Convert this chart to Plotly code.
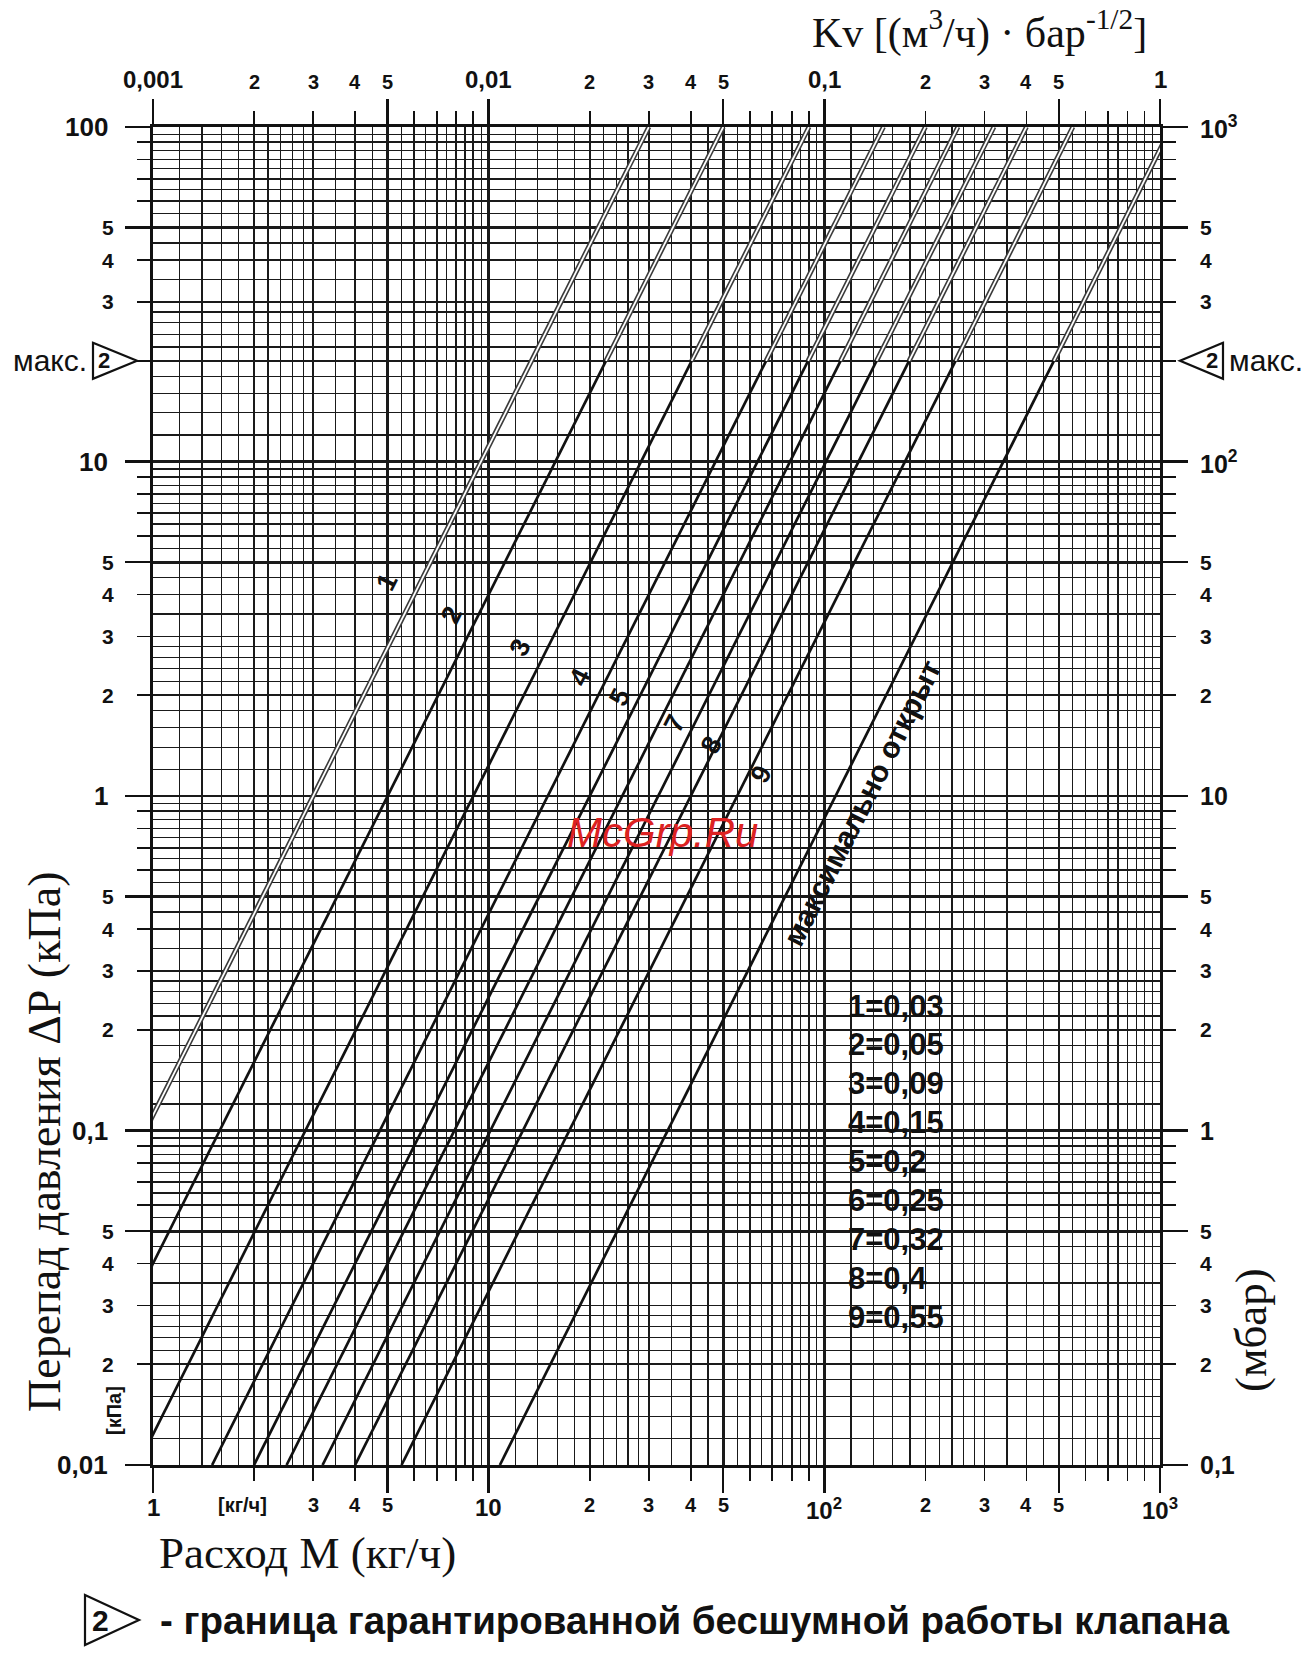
import numpy as np
import plotly.graph_objects as go

# ---------------- data ----------------
CURVE_NAMES = ["1", "2", "3", "4", "5", "6", "7", "8", "9"]
KV_VALUES = [0.03, 0.05, 0.09, 0.15, 0.2, 0.25, 0.32, 0.4, 0.55]
KV_FULL_OPEN = 1.08
DP_NOISE_LIMIT_KPA = 20.0

LEGEND_LINES = ["1=0,03", "2=0,05", "3=0,09", "4=0,15", "5=0,2",
                "6=0,25", "7=0,32", "8=0,4", "9=0,55"]

LINE_LABELS = ["1", "2", "3", "4", "5", "7", "8", "9"]
LINE_LABEL_M = [4.97, 7.76, 12.4, 18.7, 24.6, 35.9, 46.1, 65.0]
LINE_LABEL_DP = [4.37, 3.48, 2.77, 2.27, 1.98, 1.65, 1.42, 1.16]
FULL_OPEN_LABEL_M = 130.0
FULL_OPEN_LABEL_DP = 0.953

BOTTOM_TICK_M = [1, 2, 3, 4, 5, 10, 20, 30, 40, 50, 100, 200, 300, 400, 500, 1000]
BOTTOM_TICK_TEXT = ["1", "[кг/ч]", "3", "4", "5", "10", "2", "3", "4", "5",
                    "10<sup>2</sup>", "2", "3", "4", "5", "10<sup>3</sup>"]
TOP_TICK_KV = [0.001, 0.002, 0.003, 0.004, 0.005, 0.01, 0.02, 0.03, 0.04, 0.05,
               0.1, 0.2, 0.3, 0.4, 0.5, 1]
TOP_TICK_TEXT = ["0,001", "2", "3", "4", "5", "0,01", "2", "3", "4", "5",
                 "0,1", "2", "3", "4", "5", "1"]
LEFT_TICK_DP = [100, 50, 40, 30, 10, 5, 4, 3, 2, 1, 0.5, 0.4, 0.3, 0.2,
                0.1, 0.05, 0.04, 0.03, 0.02, 0.01]
LEFT_TICK_TEXT = ["100", "5", "4", "3", "10", "5", "4", "3", "2", "1", "5", "4",
                  "3", "2", "0,1", "5", "4", "3", "2", "0,01"]
RIGHT_TICK_MBAR = [1000, 500, 400, 300, 100, 50, 40, 30, 20, 10, 5, 4, 3, 2,
                   1, 0.5, 0.4, 0.3, 0.2, 0.1]
RIGHT_TICK_TEXT = ["10<sup>3</sup>", "5", "4", "3", "10<sup>2</sup>", "5", "4", "3",
                   "2", "10", "5", "4", "3", "2", "1", "5", "4", "3", "2", "0,1"]

GRID_MAIN = [1, 2, 3, 4, 5, 6, 7, 8, 9]
GRID_FINE = [1.2, 1.4, 1.6, 1.8, 2.2, 2.4, 2.6, 2.8, 3.5, 4.5, 5.5, 6.5, 7.5, 8.5, 9.5]
GRID_LONG = [1, 5]

# ---------------- layout geometry ----------------
W, H = 1316, 1663
L, R, T, B = 153, 1160, 127, 1465
SANS = "Liberation Sans, Arial, sans-serif"
SERIF = "Liberation Serif, Times New Roman, serif"
INK = "#111111"
GRID = "#1a1a1a"


def per_decade(bases, e0, e1, end=True):
    vals = [b * 10.0 ** e for e in range(e0, e1) for b in bases]
    if end:
        vals.append(10.0 ** e1)
    return vals


def is_decade(v):
    lv = np.log10(v)
    return abs(lv - round(lv)) < 1e-9


def px2paper(x, y):
    return (x - L) / (R - L), (B - y) / (B - T)


def dp_kpa(m, kv):
    return 100.0 * (m / 1000.0 / kv) ** 2


def m_at(dp, kv):
    return 1000.0 * kv * np.sqrt(dp / 100.0)


fig = go.Figure()


def solid(m0, m1, kv):
    fig.add_trace(go.Scatter(x=[m0, m1], y=[dp_kpa(m0, kv), dp_kpa(m1, kv)],
                             mode="lines", line=dict(color=INK, width=2.7),
                             hoverinfo="skip", showlegend=False))


def double(m0, m1, kv):
    xs = [m0, m1]
    ys = [dp_kpa(m0, kv), dp_kpa(m1, kv)]
    fig.add_trace(go.Scatter(x=xs, y=ys, mode="lines",
                             line=dict(color="#3a3a3a", width=5.0),
                             hoverinfo="skip", showlegend=False))
    fig.add_trace(go.Scatter(x=xs, y=ys, mode="lines",
                             line=dict(color="white", width=1.8),
                             hoverinfo="skip", showlegend=False))


all_kv = KV_VALUES + [KV_FULL_OPEN]
for i, kv in enumerate(all_kv):
    m_lo = m_at(0.01, kv)
    m_sw = m_at(DP_NOISE_LIMIT_KPA, kv)
    m_hi = m_at(100.0, kv)
    if i == 0:
        double(m_lo, m_hi, kv)
    else:
        solid(m_lo, m_sw, kv)
        double(m_sw, m_hi, kv)

# helper traces so that the overlay axes exist
for xa, ya, xv, yv in [("x2", "y3", 10, 1), ("x3", "y2", 0.01, 10), ("x4", "y4", 0.01, 10)]:
    fig.add_trace(go.Scatter(x=[xv], y=[yv], xaxis=xa, yaxis=ya, mode="markers",
                             marker=dict(opacity=0), hoverinfo="skip", showlegend=False))

m_main = per_decade(GRID_MAIN, 0, 3)
m_fine = per_decade(GRID_FINE, 0, 3, end=False)
m_long = per_decade(GRID_LONG, 0, 3)
dp_main = per_decade(GRID_MAIN, -2, 2)
dp_fine = per_decade(GRID_FINE, -2, 2, end=False)
dp_long = per_decade(GRID_LONG, -2, 2)
kv_main = per_decade(GRID_MAIN, -3, 0)
kv_long = per_decade(GRID_LONG, -3, 0)
mbar_main = per_decade(GRID_MAIN, -1, 3)
mbar_long = per_decade(GRID_LONG, -1, 3)

common = dict(type="log", showticklabels=False, zeroline=False, fixedrange=True,
              tickcolor=INK, tickmode="array")

fig.update_layout(
    width=W, height=H, autosize=False,
    margin=dict(l=L, r=W - R, t=T, b=H - B, pad=0),
    paper_bgcolor="white", plot_bgcolor="white", showlegend=False,
    xaxis=dict(**common, range=[0, 3], side="bottom", anchor="y",
               tickvals=m_main, ticks="outside", ticklen=13, tickwidth=1.7,
               showline=True, linewidth=3, linecolor=INK,
               showgrid=True, gridcolor=GRID, gridwidth=1.7,
               minor=dict(tickmode="array", tickvals=m_fine, showgrid=True,
                          gridcolor=GRID, gridwidth=1.2, ticks="")),
    xaxis2=dict(**common, range=[0, 3], side="bottom", anchor="y3", overlaying="x",
                tickvals=m_long, ticks="outside", ticklen=27, tickwidth=2.4,
                showline=False, showgrid=True, gridcolor=GRID, gridwidth=2.8),
    xaxis3=dict(**common, range=[-3, 0], side="top", anchor="y2", overlaying="x",
                tickvals=kv_main, ticks="outside", ticklen=13, tickwidth=1.7,
                showline=True, linewidth=3, linecolor=INK, showgrid=False),
    xaxis4=dict(**common, range=[-3, 0], side="top", anchor="y4", overlaying="x",
                tickvals=kv_long, ticks="outside", ticklen=27, tickwidth=2.4,
                showline=False, showgrid=False),
    yaxis=dict(**common, range=[-2, 2], side="left", anchor="x",
               tickvals=dp_main, ticks="outside", ticklen=13, tickwidth=1.7,
               showline=True, linewidth=3, linecolor=INK,
               showgrid=True, gridcolor=GRID, gridwidth=1.7,
               minor=dict(tickmode="array", tickvals=dp_fine, showgrid=True,
                          gridcolor=GRID, gridwidth=1.2, ticks="")),
    yaxis3=dict(**common, range=[-2, 2], side="left", anchor="x2", overlaying="y",
                tickvals=dp_long, ticks="outside", ticklen=27, tickwidth=2.4,
                showline=False, showgrid=True, gridcolor=GRID, gridwidth=2.8),
    yaxis2=dict(**common, range=[-1, 3], side="right", anchor="x3", overlaying="y",
                tickvals=mbar_main, ticks="outside", ticklen=13, tickwidth=1.7,
                showline=True, linewidth=3, linecolor=INK, showgrid=False),
    yaxis4=dict(**common, range=[-1, 3], side="right", anchor="x4", overlaying="y",
                tickvals=mbar_long, ticks="outside", ticklen=27, tickwidth=2.4,
                showline=False, showgrid=False),
)

ann = []


def add(text, x, y, xref="paper", yref="paper", size=22, family=SANS, weight="normal",
        color=INK, **kw):
    d = dict(text=text, x=x, y=y, xref=xref, yref=yref, showarrow=False,
             font=dict(family=family, size=size, color=color, weight=weight))
    d.update(kw)
    ann.append(d)


# left tick labels
for v, t in zip(LEFT_TICK_DP, LEFT_TICK_TEXT):
    big = is_decade(v)
    add(t, 0, np.log10(v), yref="y", size=26 if big else 21, weight="bold",
        xanchor="right", yanchor="middle", xshift=-43 if big else -37)
# right tick labels
for v, t in zip(RIGHT_TICK_MBAR, RIGHT_TICK_TEXT):
    big = is_decade(v)
    add(t, 1, np.log10(v), yref="y2", size=25 if big else 21, weight="bold",
        xanchor="left", yanchor="middle", xshift=38)
# top tick labels
for v, t in zip(TOP_TICK_KV, TOP_TICK_TEXT):
    big = is_decade(v)
    add(t, np.log10(v), 1, xref="x3", size=24 if big else 20, weight="bold",
        xanchor="center", yanchor="bottom", yshift=32)
# bottom tick labels
for v, t in zip(BOTTOM_TICK_M, BOTTOM_TICK_TEXT):
    big = is_decade(v)
    add(t, np.log10(v), 0, xref="x", size=24 if big else 20, weight="bold",
        xanchor="center", yanchor="top", yshift=-27,
        xshift=-12 if t.startswith("[") else 0)

# [кПа] on the left
px, py = px2paper(114, 1411)
add("[кПа]", px, py, size=20, weight="bold", textangle=-90,
    xanchor="center", yanchor="middle")

# axis titles
px, py = px2paper(44, 1142)
add("Перепад давления ΔР (кПа)", px, py, size=46, family=SERIF, textangle=-90,
    xanchor="center", yanchor="middle")
px, py = px2paper(1251, 1330)
add("(мбар)", px, py, size=45, family=SERIF, textangle=-90,
    xanchor="center", yanchor="middle")
px, py = px2paper(157, 1553)
add("Расход М (кг/ч)", px, py, size=45, family=SERIF, xanchor="left", yanchor="middle")
px, py = px2paper(979, 30)
add("Kv [(м<sup>3</sup>/ч) · бар<sup>-1/2</sup>]", px, py, size=42, family=SERIF,
    xanchor="center", yanchor="middle")

# curve labels
for t, m, d in zip(LINE_LABELS, LINE_LABEL_M, LINE_LABEL_DP):
    add(t, np.log10(m), np.log10(d), xref="x", yref="y", size=27, weight="bold",
        textangle=-63, xanchor="center", yanchor="middle")
add("максимально открыт", np.log10(FULL_OPEN_LABEL_M), np.log10(FULL_OPEN_LABEL_DP),
    xref="x", yref="y", size=30, weight="bold", textangle=-63.3,
    xanchor="center", yanchor="middle")

# Kv legend
for k, t in enumerate(LEGEND_LINES):
    px, py = px2paper(846, 1006 + 38.9 * k)
    add(t, px, py, size=31, weight="bold", xanchor="left", yanchor="middle")

# watermark
add("<i>McGrp.Ru</i>", np.log10(33.0), np.log10(0.78), xref="x", yref="y", size=42,
    color="#dd2222", xanchor="center", yanchor="middle")

# max-limit markers ("2" triangles)
y_lim = T + (2 - np.log10(DP_NOISE_LIMIT_KPA)) * (B - T) / 4.0
shapes = []


def tri(xb, xa, yc, hh):
    p1 = px2paper(xb, yc - hh)
    p2 = px2paper(xa, yc)
    p3 = px2paper(xb, yc + hh)
    shapes.append(dict(type="path", xref="paper", yref="paper",
                       path=f"M {p1[0]},{p1[1]} L {p2[0]},{p2[1]} L {p3[0]},{p3[1]} Z",
                       line=dict(color=INK, width=2.2), fillcolor="white", layer="above"))


tri(93, 137, y_lim, 18)
px, py = px2paper(104, y_lim)
add("2", px, py, size=22, weight="bold", xanchor="center", yanchor="middle")
px, py = px2paper(89, y_lim)
add("макс.", px, py, size=30, xanchor="right", yanchor="middle")

tri(1223, 1180, y_lim, 18)
px, py = px2paper(1212, y_lim)
add("2", px, py, size=22, weight="bold", xanchor="center", yanchor="middle")
px, py = px2paper(1227, y_lim)
add("макс.", px, py, size=30, xanchor="left", yanchor="middle")

# footer
tri(85, 139, 1620, 25)
px, py = px2paper(100, 1620)
add("2", px, py, size=30, weight="bold", xanchor="center", yanchor="middle")
px, py = px2paper(158, 1620)
add("- граница гарантированной бесшумной работы клапана", px, py, size=38.5,
    weight="bold", xanchor="left", yanchor="middle")

fig.update_layout(annotations=ann, shapes=shapes)
fig.write_html(
    "out.html",
    config={"displayModeBar": False, "staticPlot": True},
    post_script="document.body.style.margin='0';document.body.style.padding='0';"
                "document.body.style.overflow='hidden';",
)
